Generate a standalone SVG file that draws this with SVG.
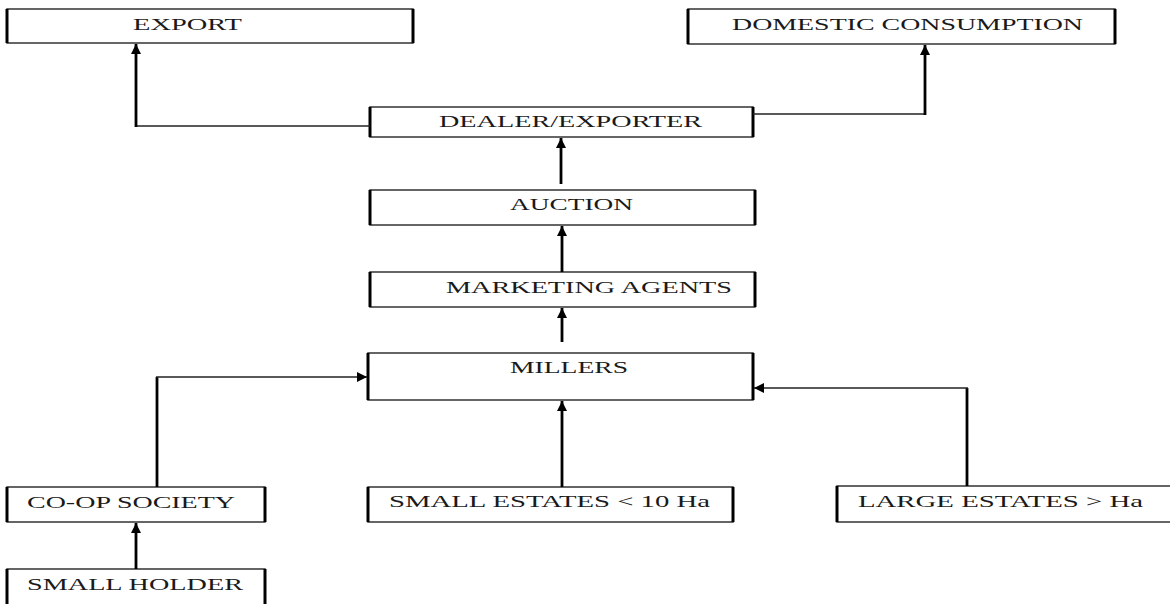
<svg xmlns="http://www.w3.org/2000/svg" width="1170" height="604" viewBox="0 0 1170 604">
<defs>
<style>
.box{fill:#fff;stroke:#333;stroke-width:1.5}
.side{stroke:#000;stroke-width:3}
.lbl{font-family:"Liberation Serif","Times New Roman",serif;font-size:17px;fill:#1a1a1a}
.h{fill:none;stroke:#222;stroke-width:1.6}
.v{fill:none;stroke:#000;stroke-width:2.8}
</style>
<marker id="ah" viewBox="0 0 10 10" refX="10" refY="5" markerWidth="10" markerHeight="11" markerUnits="userSpaceOnUse" orient="auto">
<path d="M0,0 L10,5 L0,10 Z" fill="#000"/>
</marker>
</defs>
<rect width="1170" height="604" fill="#fff"/>

<g id="export">
<rect class="box" x="7" y="9" width="406" height="34"/>
<line class="side" x1="7" y1="9" x2="7" y2="43"/><line class="side" x1="413" y1="9" x2="413" y2="43"/>
<text class="lbl" x="133" y="30" textLength="109" lengthAdjust="spacingAndGlyphs">EXPORT</text>
</g>
<g id="domestic">
<rect class="box" x="688" y="9" width="427" height="35"/>
<line class="side" x1="688" y1="9" x2="688" y2="44"/><line class="side" x1="1115" y1="9" x2="1115" y2="44"/>
<text class="lbl" x="732" y="30" textLength="351" lengthAdjust="spacingAndGlyphs">DOMESTIC CONSUMPTION</text>
</g>
<g id="dealer">
<rect class="box" x="370" y="107" width="383" height="30"/>
<line class="side" x1="370" y1="107" x2="370" y2="137"/><line class="side" x1="753" y1="107" x2="753" y2="137"/>
<text class="lbl" x="439" y="127" textLength="263" lengthAdjust="spacingAndGlyphs">DEALER/EXPORTER</text>
</g>
<g id="auction">
<rect class="box" x="370" y="190" width="385" height="35"/>
<line class="side" x1="370" y1="190" x2="370" y2="225"/><line class="side" x1="755" y1="190" x2="755" y2="225"/>
<text class="lbl" x="510" y="210" textLength="123" lengthAdjust="spacingAndGlyphs">AUCTION</text>
</g>
<g id="marketing">
<rect class="box" x="370" y="272" width="385" height="35"/>
<line class="side" x1="370" y1="272" x2="370" y2="307"/><line class="side" x1="755" y1="272" x2="755" y2="307"/>
<text class="lbl" x="446" y="293" textLength="286" lengthAdjust="spacingAndGlyphs">MARKETING AGENTS</text>
</g>
<g id="millers">
<rect class="box" x="368" y="353" width="385" height="47"/>
<line class="side" x1="368" y1="353" x2="368" y2="400"/><line class="side" x1="753" y1="353" x2="753" y2="400"/>
<text class="lbl" x="510" y="373" textLength="118" lengthAdjust="spacingAndGlyphs">MILLERS</text>
</g>
<g id="coop">
<rect class="box" x="7" y="487" width="258" height="35"/>
<line class="side" x1="7" y1="487" x2="7" y2="522"/><line class="side" x1="265" y1="487" x2="265" y2="522"/>
<text class="lbl" x="27" y="508" textLength="208" lengthAdjust="spacingAndGlyphs">CO-OP SOCIETY</text>
</g>
<g id="small-estates">
<rect class="box" x="368" y="487" width="365" height="35"/>
<line class="side" x1="368" y1="487" x2="368" y2="522"/><line class="side" x1="733" y1="487" x2="733" y2="522"/>
<text class="lbl" x="389" y="507" textLength="321" lengthAdjust="spacingAndGlyphs">SMALL ESTATES &lt; 10 Ha</text>
</g>
<g id="large-estates">
<rect class="box" x="837" y="486" width="340" height="36"/>
<line class="side" x1="837" y1="486" x2="837" y2="522"/>
<text class="lbl" x="858" y="507" textLength="285" lengthAdjust="spacingAndGlyphs">LARGE ESTATES &gt; Ha</text>
</g>
<g id="small-holder">
<rect class="box" x="7" y="569" width="258" height="40"/>
<line class="side" x1="7" y1="569" x2="7" y2="604"/><line class="side" x1="265" y1="569" x2="265" y2="604"/>
<text class="lbl" x="27" y="590" textLength="216" lengthAdjust="spacingAndGlyphs">SMALL HOLDER</text>
</g>

<g id="connectors">
<line class="h" x1="370" y1="126" x2="136" y2="126"/>
<line class="v" x1="136" y1="127" x2="136" y2="44" marker-end="url(#ah)"/>
<line class="h" x1="753" y1="114" x2="925" y2="114"/>
<line class="v" x1="925" y1="115" x2="925" y2="45" marker-end="url(#ah)"/>
<line class="v" x1="561" y1="184" x2="561" y2="138" marker-end="url(#ah)"/>
<line class="v" x1="562" y1="272" x2="562" y2="226" marker-end="url(#ah)"/>
<line class="v" x1="562" y1="342" x2="562" y2="308" marker-end="url(#ah)"/>
<line class="v" x1="157" y1="487" x2="157" y2="377"/>
<line class="h" x1="156" y1="377" x2="367" y2="377" marker-end="url(#ah)"/>
<line class="v" x1="562" y1="487" x2="562" y2="401" marker-end="url(#ah)"/>
<line class="v" x1="967" y1="486" x2="967" y2="388"/>
<line class="h" x1="968" y1="388" x2="754" y2="388" marker-end="url(#ah)"/>
<line class="v" x1="136" y1="569" x2="136" y2="523" marker-end="url(#ah)"/>
</g>
</svg>
